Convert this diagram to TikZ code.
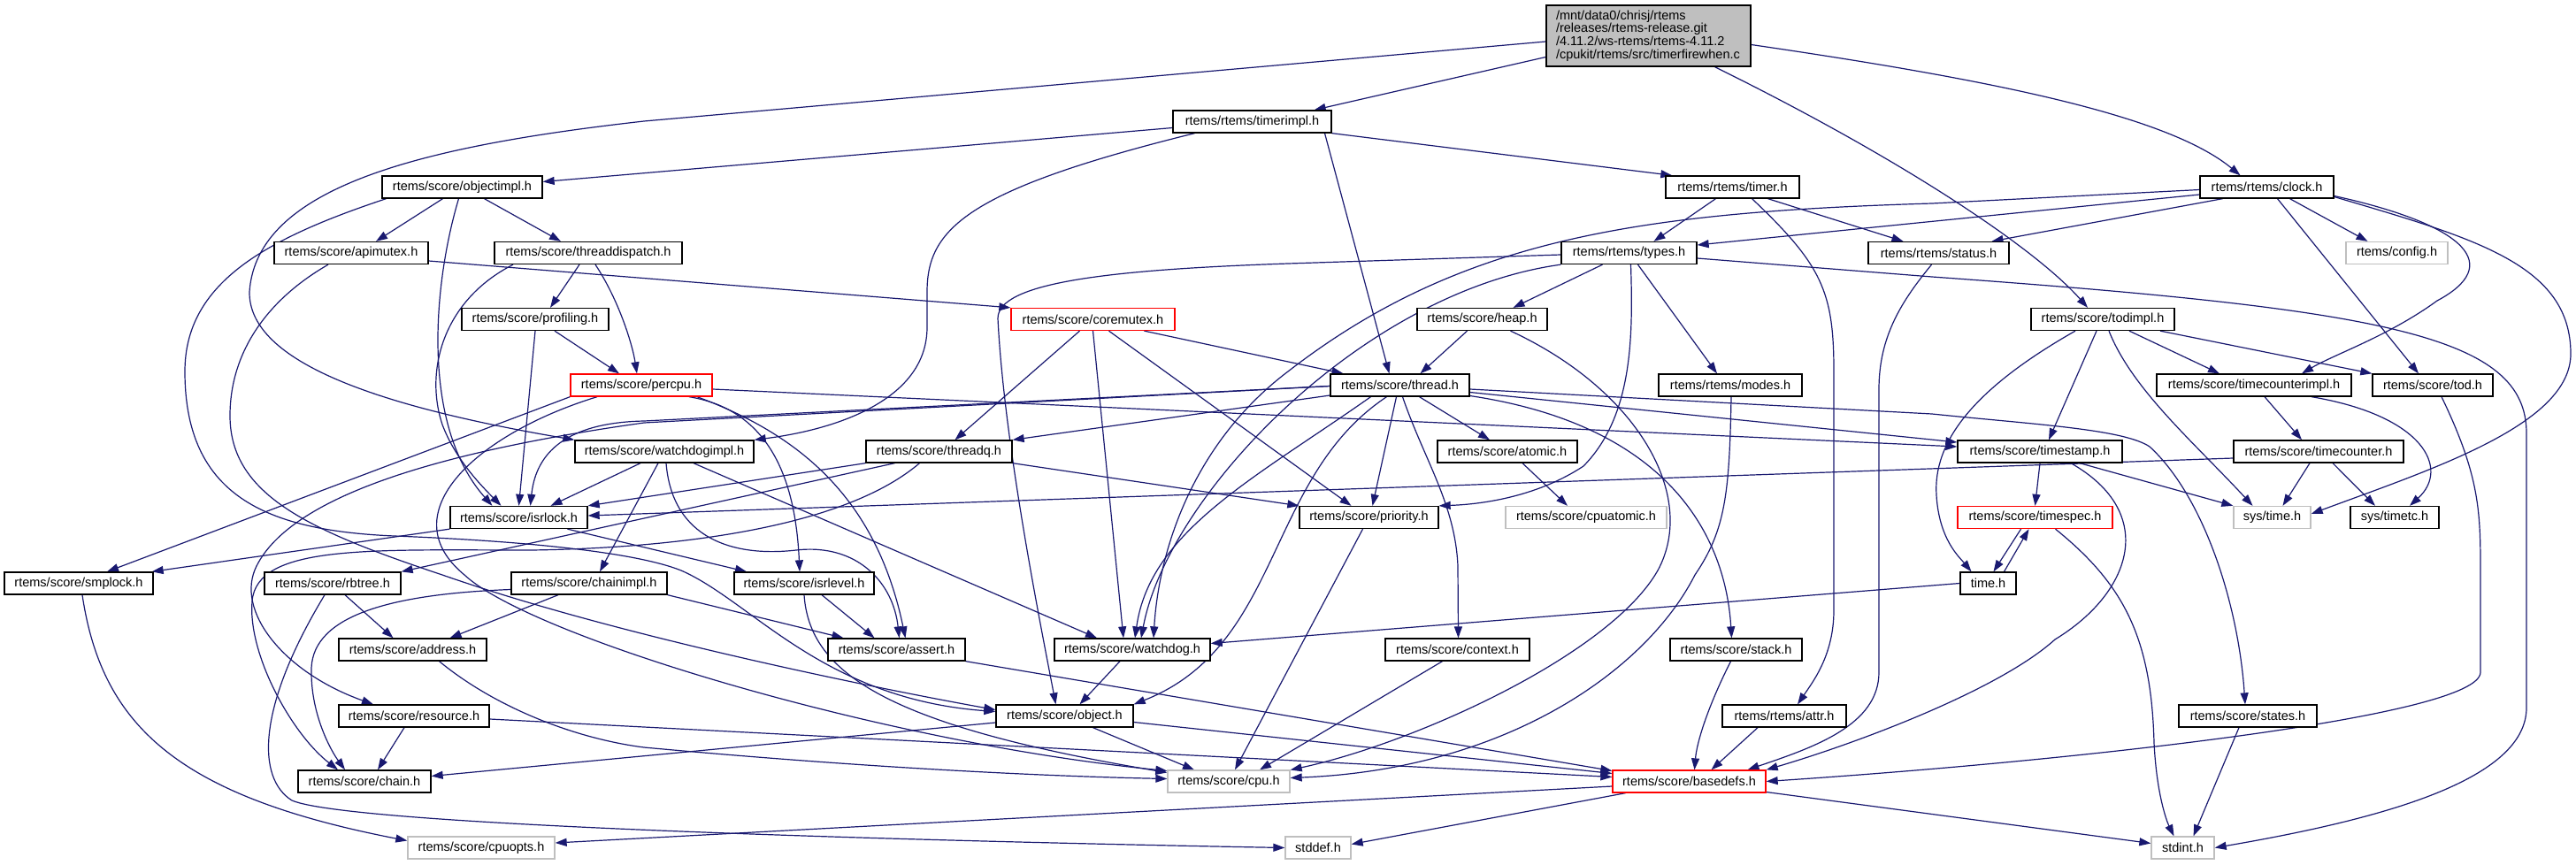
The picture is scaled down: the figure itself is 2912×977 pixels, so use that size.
\documentclass[tikz,border=0pt]{standalone}
\usepackage{fontspec}
\setmainfont{Liberation Sans}
\usetikzlibrary{arrows.meta}
\pgfdeclarelayer{back}
\pgfdeclarelayer{bg}
\pgfsetlayers{back,bg,main}
\definecolor{edgec}{HTML}{191970}
\definecolor{rootfill}{HTML}{BFBFBF}
\definecolor{grayb}{HTML}{BFBFBF}
\definecolor{redb}{HTML}{FF0000}
\begin{document}
\begin{tikzpicture}[x=1pt,y=-1pt,
  nb/.style={draw=black, line width=1.3pt, fill=white, minimum height=25pt, inner sep=0pt, font=\fontsize{14.5pt}{16pt}\selectfont},
  rb/.style={nb, draw=redb},
  gb/.style={nb, draw=grayb},
  e/.style={draw=edgec, line width=1.2pt, -{Triangle[length=13pt,width=9pt]}},
]
\begin{pgfonlayer}{back}
\fill[white] (0,0) rectangle (2912,977);
\end{pgfonlayer}
\useasboundingbox (0,0) rectangle (2912,977);

\node[draw=black, line width=1.3pt, fill=rootfill, minimum height=69pt, inner xsep=11pt, inner ysep=0pt, text width=209pt, align=left, font=\fontsize{14.5pt}{14.8pt}\selectfont] (root) at (1863.5,40.5) {/mnt/data0/chrisj/rtems\\/releases/rtems-release.git\\/4.11.2/ws-rtems/rtems-4.11.2\\/cpukit/rtems/src/timerfirewhen.c};

\node[nb,minimum width=179pt] (timerimpl) at (1415.5,137.5) {rtems/rtems/timerimpl.h};
\node[nb,minimum width=181pt] (objectimpl) at (522.5,211.5) {rtems/score/objectimpl.h};
\node[nb,minimum width=151pt] (timer) at (1958.5,211.5) {rtems/rtems/timer.h};
\node[nb,minimum width=151pt] (clock) at (2562.5,211.5) {rtems/rtems/clock.h};
\node[nb,minimum width=174pt] (apimutex) at (397,286) {rtems/score/apimutex.h};
\node[nb,minimum width=212pt] (threaddispatch) at (665,286) {rtems/score/threaddispatch.h};
\node[nb,minimum width=153pt] (types) at (1841.5,286) {rtems/rtems/types.h};
\node[nb,minimum width=159pt] (status) at (2191.5,286) {rtems/rtems/status.h};
\node[gb,minimum width=115pt] (config) at (2709.5,286) {rtems/config.h};
\node[nb,minimum width=166pt] (profiling) at (605,361) {rtems/score/profiling.h};
\node[rb,minimum width=185pt] (coremutex) at (1235.5,361) {rtems/score/coremutex.h};
\node[nb,minimum width=147pt] (heap) at (1675.5,361) {rtems/score/heap.h};
\node[nb,minimum width=162pt] (todimpl) at (2377,361) {rtems/score/todimpl.h};
\node[rb,minimum width=160pt] (percpu) at (725,435.5) {rtems/score/percpu.h};
\node[nb,minimum width=157pt] (thread) at (1582.5,435.5) {rtems/score/thread.h};
\node[nb,minimum width=162pt] (modes) at (1956,435.5) {rtems/rtems/modes.h};
\node[nb,minimum width=220pt] (timecounterimpl) at (2548,435.5) {rtems/score/timecounterimpl.h};
\node[nb,minimum width=136pt] (tod) at (2750,435.5) {rtems/score/tod.h};
\node[nb,minimum width=202pt] (watchdogimpl) at (751,510.5) {rtems/score/watchdogimpl.h};
\node[nb,minimum width=165pt] (threadq) at (1061.5,510.5) {rtems/score/threadq.h};
\node[nb,minimum width=158pt] (atomic) at (1704,510.5) {rtems/score/atomic.h};
\node[nb,minimum width=186pt] (timestamp) at (2306,510.5) {rtems/score/timestamp.h};
\node[nb,minimum width=192pt] (timecounter) at (2621,510.5) {rtems/score/timecounter.h};
\node[nb,minimum width=155pt] (isrlock) at (586.5,585) {rtems/score/isrlock.h};
\node[nb,minimum width=157pt] (priority) at (1547.5,585) {rtems/score/priority.h};
\node[gb,minimum width=182pt] (cpuatomic) at (1793,585) {rtems/score/cpuatomic.h};
\node[rb,minimum width=175pt] (timespec) at (2300.5,585) {rtems/score/timespec.h};
\node[gb,minimum width=87pt] (systime) at (2568.5,585) {sys/time.h};
\node[nb,minimum width=100pt] (systimetc) at (2707,585) {sys/timetc.h};
\node[nb,minimum width=168pt] (smplock) at (89,659.5) {rtems/score/smplock.h};
\node[nb,minimum width=154pt] (rbtree) at (376,659.5) {rtems/score/rbtree.h};
\node[nb,minimum width=176pt] (chainimpl) at (666,659.5) {rtems/score/chainimpl.h};
\node[nb,minimum width=158pt] (isrlevel) at (909,659.5) {rtems/score/isrlevel.h};
\node[nb,minimum width=63pt] (timeh) at (2247.5,659.5) {time.h};
\node[nb,minimum width=167pt] (address) at (466.5,734.5) {rtems/score/address.h};
\node[nb,minimum width=155pt] (assert) at (1013.5,734.5) {rtems/score/assert.h};
\node[nb,minimum width=176pt] (watchdog) at (1280,734.5) {rtems/score/watchdog.h};
\node[nb,minimum width=163pt] (context) at (1647.5,734.5) {rtems/score/context.h};
\node[nb,minimum width=149pt] (stack) at (1962.5,734.5) {rtems/score/stack.h};
\node[nb,minimum width=170pt] (resource) at (468,809.5) {rtems/score/resource.h};
\node[nb,minimum width=155pt] (object) at (1203.5,809.5) {rtems/score/object.h};
\node[nb,minimum width=140pt] (attr) at (2017,809.5) {rtems/rtems/attr.h};
\node[nb,minimum width=156pt] (states) at (2541,809.5) {rtems/score/states.h};
\node[nb,minimum width=150pt] (chain) at (412,883.5) {rtems/score/chain.h};
\node[gb,minimum width=138pt] (cpu) at (1389,883.5) {rtems/score/cpu.h};
\node[rb,minimum width=173pt] (basedefs) at (1909.5,883.5) {rtems/score/basedefs.h};
\node[gb,minimum width=166pt] (cpuopts) at (544,958.5) {rtems/score/cpuopts.h};
\node[gb,minimum width=74pt] (stddef) at (1490,958.5) {stddef.h};
\node[gb,minimum width=71pt] (stdint) at (2467.5,958.5) {stdint.h};

\begin{pgfonlayer}{bg}
% root
\draw[e] ([yshift=-24pt]root.west) -- ([xshift=-20pt]timerimpl.north east);
\draw[e] ([yshift=-6.5pt]root.west) -- (728,137) .. controls (480,165) and (290,210) .. (282,330) .. controls (281,410) and (430,460) .. (watchdogimpl.north west);
\draw[e] ([yshift=-10pt]root.east) .. controls (2250,90) and (2450,130) .. ([xshift=-30pt]clock.north);
\draw[e] ([xshift=75pt]root.south) .. controls (2150,180) and (2300,280) .. ([xshift=-17pt]todimpl.north);
% timerimpl
\draw[e] ([yshift=-7pt]timerimpl.west) -- ([yshift=6pt]objectimpl.east);
\draw[e] (timerimpl.south east) -- ([xshift=8pt]timer.north west);
\draw[e] ([xshift=82pt]timerimpl.south) -- ([xshift=-12pt]thread.north);
\draw[e] ([xshift=-65pt]timerimpl.south) .. controls (1090,215) and (1048,260) .. (1048,330) -- (1048,370) .. controls (1048,450) and (950,485) .. (watchdogimpl.north east);
% objectimpl
\draw[e] ([xshift=-22pt]objectimpl.south) -- ([xshift=28pt]apimutex.north);
\draw[e] ([xshift=25pt]objectimpl.south) -- ([xshift=-31pt]threaddispatch.north);
\draw[e] ([xshift=-4pt]objectimpl.south) .. controls (490,320) and (475,480) .. ([xshift=-30pt]isrlock.north);
\draw[e] ([xshift=-86pt]objectimpl.south) .. controls (300,270) and (209,320) .. (209,420) .. controls (209,560) and (300,600) .. (446,606) .. controls (600,612) and (720,625) .. (770,645) .. controls (850,680) and (930,790) .. ([yshift=5pt]object.west);
% apimutex
\draw[e] ([yshift=-9pt]apimutex.east) -- (coremutex.north west);
\draw[e] ([xshift=-26pt]apimutex.south) .. controls (300,340) and (260,400) .. (260,470) .. controls (260,560) and (350,600) .. (500,650) .. controls (700,720) and (1000,780) .. ([yshift=7pt]object.west);
% threaddispatch
\draw[e] ([xshift=-10pt]threaddispatch.south) -- ([xshift=17pt]profiling.north);
\draw[e] ([xshift=8pt]threaddispatch.south) .. controls (700,340) and (715,390) .. ([xshift=-5pt]percpu.north);
\draw[e] ([xshift=-85pt]threaddispatch.south) .. controls (500,340) and (480,420) .. (500,480) .. controls (515,520) and (545,550) .. ([xshift=-20pt]isrlock.north);
% profiling
\draw[e] ([xshift=22pt]profiling.south) -- ([xshift=-25pt]percpu.north);
\draw[e] (profiling.south) -- (isrlock.north);
% coremutex
\draw[e] ([xshift=-15pt]coremutex.south) -- ([xshift=18pt]threadq.north);
\draw[e] (coremutex.south) -- ([xshift=-10pt]watchdog.north);
\draw[e] ([xshift=18pt]coremutex.south) -- ([xshift=-20pt]priority.north);
\draw[e] ([xshift=58pt]coremutex.south) -- ([xshift=-64pt]thread.north);
% types
\draw[e] ([xshift=-30pt]types.south) -- ([xshift=35pt]heap.north);
\draw[e] ([xshift=10pt]types.south) -- ([xshift=-15pt]modes.north);
\draw[e] ([xshift=2pt]types.south) .. controls (1846,380) and (1846,470) .. (1790,527) .. controls (1740,560) and (1680,570) .. (priority.north east);
\draw[e] ([yshift=-2pt]types.west) -- (1456,298) .. controls (1250,305) and (1128,320) .. (1128,360) .. controls (1135,500) and (1175,700) .. ([xshift=-10pt]object.north);
\draw[e] (types.south west) .. controls (1540,330) and (1320,560) .. ([xshift=10pt]watchdog.north);
\draw[e] ([yshift=-6pt]types.east) -- (2184,313) .. controls (2700,350) and (2856,380) .. (2856,490) -- (2856,800) .. controls (2856,880) and (2700,925) .. (stdint.east);
% timer
\draw[e] ([xshift=-19pt]timer.south) -- ([xshift=28pt]types.north);
\draw[e] ([xshift=40pt]timer.south) -- ([xshift=-40pt]status.north);
\draw[e] ([xshift=22pt]timer.south) .. controls (2060,300) and (2073,330) .. (2073,420) -- (2073,690) .. controls (2073,740) and (2050,770) .. ([xshift=15pt]attr.north);
% clock
\draw[e] ([yshift=-8.5pt]clock.west) -- ([yshift=9pt]types.east);
\draw[e] ([xshift=-50pt]clock.south) -- ([xshift=60pt]status.north);
\draw[e] ([yshift=-3pt]clock.west) -- (2184,230) .. controls (1850,240) and (1650,270) .. (1456,420) .. controls (1350,500) and (1310,620) .. ([xshift=24pt]watchdog.north);
\draw[e] ([xshift=26pt]clock.south) -- ([xshift=-33pt]config.north);
\draw[e] ([xshift=12pt]clock.south) -- ([xshift=-16pt]tod.north);
\draw[e] ([yshift=-10pt]clock.east) .. controls (2790,255) and (2830,300) .. (2755,340) .. controls (2700,380) and (2640,400) .. ([xshift=54pt]timecounterimpl.north);
\draw[e] ([yshift=-11pt]clock.east) .. controls (2800,270) and (2906,300) .. (2906,400) .. controls (2906,480) and (2750,530) .. ([yshift=4pt]systime.east);
% todimpl
\draw[e] ([xshift=-7pt]todimpl.south) -- ([xshift=10pt]timestamp.north);
\draw[e] ([xshift=30pt]todimpl.south) -- ([xshift=-39pt]timecounterimpl.north);
\draw[e] ([xshift=65pt]todimpl.south) -- (tod.north west);
\draw[e] ([xshift=-31pt]todimpl.south) .. controls (2230,440) and (2185,500) .. (2189,560) .. controls (2192,610) and (2215,630) .. ([xshift=-19pt]timeh.north);
\draw[e] ([xshift=7pt]todimpl.south) .. controls (2410,440) and (2480,500) .. ([xshift=-22pt]systime.north);
% timecounterimpl
\draw[e] ([xshift=12pt]timecounterimpl.south) -- ([xshift=-19pt]timecounter.north);
\draw[e] ([xshift=65pt]timecounterimpl.south) .. controls (2740,470) and (2770,530) .. ([xshift=17pt]systimetc.north);
% timecounter
\draw[e] ([xshift=-10pt]timecounter.south) -- ([xshift=12pt]systime.north);
\draw[e] ([xshift=16pt]timecounter.south) -- ([xshift=-22pt]systimetc.north);
\draw[e] ([yshift=-7.5pt]timecounter.west) -- ([yshift=2pt]isrlock.east);
% timestamp
\draw[e] (timestamp.south) -- (timespec.north);
\draw[e] ([xshift=45pt]timestamp.south) -- (systime.north west);
\draw[e] ([xshift=35pt]timestamp.south) .. controls (2440,580) and (2410,670) .. (2323,723) .. controls (2260,780) and (2100,840) .. (basedefs.north east);
% timespec / time.h
\draw[e] ([xshift=-16pt]timespec.south) -- ([xshift=6pt]timeh.north);
\draw[e] ([xshift=18pt]timeh.north) -- ([xshift=-7pt]timespec.south);
\draw[e] ([xshift=23pt]timespec.south) .. controls (2400,660) and (2432,720) .. (2435,840) .. controls (2438,900) and (2450,930) .. ([xshift=-10pt]stdint.north);
\draw[e] (timeh.west) -- ([yshift=7pt]watchdog.east);
% tod, status
\draw[e] ([xshift=10pt]tod.south) .. controls (2804,540) and (2804,580) .. (2804,650) -- (2804,760) .. controls (2804,810) and (2350,860) .. (basedefs.east);
\draw[e] ([xshift=-8pt]status.south) .. controls (2150,340) and (2124,380) .. (2124,440) -- (2124,760) .. controls (2124,820) and (2050,845) .. ([xshift=66pt]basedefs.north);
% into basedefs
\draw[e] ([xshift=-30pt]attr.south) -- ([xshift=25pt]basedefs.north);
\draw[e] ([xshift=-6pt]stack.south) .. controls (1930,800) and (1918,840) .. ([xshift=6pt]basedefs.north);
\draw[e] ([yshift=-7pt]object.east) -- ([yshift=9pt]basedefs.west);
\draw[e] ([yshift=-3.5pt]resource.east) -- ([yshift=5pt]basedefs.west);
\draw[e] (assert.south east) -- ([yshift=12pt]basedefs.west);
% from basedefs
\draw[e] ([yshift=-5.5pt]basedefs.west) -- ([yshift=5.5pt]cpuopts.east);
\draw[e] ([xshift=-72pt]basedefs.south) -- ([yshift=4pt]stddef.east);
\draw[e] ([yshift=-12pt]basedefs.east) -- ([yshift=5pt]stdint.west);
\draw[e] ([xshift=-10pt]states.south) -- ([xshift=12pt]stdint.north);
\draw[e] ([xshift=4pt]smplock.south) .. controls (115,820) and (200,900) .. ([yshift=8pt]cpuopts.west);
% rbtree, chainimpl
\draw[e] ([xshift=14pt]rbtree.south) -- ([xshift=-22pt]address.north);
\draw[e] ([xshift=-9pt]rbtree.south) .. controls (290,800) and (290,880) .. (330,905) .. controls (400,935) and (1100,952) .. (stddef.west);
\draw[e] ([xshift=-35pt]chainimpl.south) -- ([xshift=42pt]address.north);
\draw[e] ([yshift=-7pt]chainimpl.west) .. controls (430,672) and (350,700) .. (352,760) .. controls (352,810) and (375,850) .. ([xshift=-22pt]chain.north);
\draw[e] (chainimpl.south east) -- ([xshift=-60pt]assert.north);
% isrlevel
\draw[e] ([xshift=20pt]isrlevel.south) -- ([xshift=-25pt]assert.north);
\draw[e] (isrlevel.south) .. controls (915,760) and (1000,820) .. ([yshift=10pt]cpu.west);
% into cpu / chain / object
\draw[e] ([xshift=30pt]address.south) .. controls (560,800) and (650,835) .. (728,845) .. controls (1000,870) and (1200,878) .. ([yshift=3pt]cpu.west);
\draw[e] ([xshift=-17pt]context.south) -- ([xshift=35pt]cpu.north);
\draw[e] ([xshift=-7pt]priority.south) -- ([xshift=7pt]cpu.north);
\draw[e] ([xshift=32pt]object.south) -- ([xshift=-39pt]cpu.north);
\draw[e] ([yshift=-7.5pt]object.west) -- ([yshift=6pt]chain.east);
\draw[e] ([xshift=-11pt]resource.south) -- ([xshift=15pt]chain.north);
\draw[e] ([xshift=-14pt]watchdog.south) -- ([xshift=17pt]object.north);
\draw[e] ([xshift=32pt]heap.south) .. controls (1850,440) and (1920,560) .. (1874,645) .. controls (1820,740) and (1600,840) .. ([yshift=13pt]cpu.east);
\draw[e] ([xshift=1pt]modes.south) .. controls (1955,560) and (1950,600) .. (1916,650) .. controls (1860,760) and (1700,870) .. ([yshift=4pt]cpu.east);
\draw[e] ([xshift=17pt]atomic.south) -- ([xshift=-21pt]cpuatomic.north);
\draw[e] ([xshift=-17pt]heap.south) -- ([xshift=23pt]thread.north);
% thread
\draw[e] ([yshift=-11.5pt]thread.west) -- (threadq.north east);
\draw[e] ([yshift=-1pt]thread.west) -- (728,476) .. controls (630,478) and (605,520) .. ([xshift=13pt]isrlock.north);
\draw[e] ([yshift=-1pt]thread.west) -- (728,478) .. controls (500,510) and (330,560) .. (290,640) .. controls (265,690) and (320,760) .. ([xshift=-46pt]resource.north);
\draw[e] ([xshift=22pt]thread.south) -- ([xshift=-20pt]atomic.north);
\draw[e] ([xshift=-4pt]thread.south) -- ([xshift=4pt]priority.north);
\draw[e] ([xshift=3pt]thread.south) .. controls (1610,520) and (1645,570) .. (1648,640) -- ([xshift=1pt]context.north);
\draw[e] ([xshift=-15pt]thread.south) .. controls (1430,540) and (1450,730) .. (object.north east);
\draw[e] ([xshift=-33pt]thread.south) .. controls (1420,540) and (1300,600) .. ([xshift=3pt]watchdog.north);
\draw[e] ([yshift=-8pt]thread.east) -- ([yshift=10.5pt]timestamp.west);
\draw[e] ([yshift=-4.5pt]thread.east) -- (2184,468) .. controls (2300,480) and (2400,485) .. (2430,505) .. controls (2490,560) and (2530,680) .. ([xshift=-3pt]states.north);
\draw[e] ([yshift=-12pt]thread.east) .. controls (1880,480) and (1950,600) .. ([xshift=-5pt]stack.north);
% percpu
\draw[e] (percpu.south west) -- ([xshift=32pt]smplock.north);
\draw[e] ([xshift=-50pt]percpu.south) .. controls (540,490) and (440,580) .. (525,650) .. controls (600,720) and (1000,840) .. ([yshift=12pt]cpu.west);
\draw[e] ([xshift=54pt]percpu.south) .. controls (880,465) and (900,560) .. ([xshift=-5pt]isrlevel.north);
\draw[e] ([xshift=63pt]percpu.south) .. controls (900,490) and (990,560) .. ([xshift=10pt]assert.north);
\draw[e] ([yshift=-4.5pt]percpu.east) -- ([yshift=5.5pt]timestamp.west);
% watchdogimpl
\draw[e] ([xshift=-7pt]watchdogimpl.south) -- ([xshift=12pt]chainimpl.north);
\draw[e] ([xshift=2pt]watchdogimpl.south) .. controls (760,610) and (830,630) .. (900,622) .. controls (970,614) and (1010,660) .. ([xshift=3pt]assert.north);
\draw[e] ([xshift=33pt]watchdogimpl.south) -- ([xshift=-40pt]watchdog.north);
\draw[e] ([xshift=-27pt]watchdogimpl.south) -- ([xshift=36pt]isrlock.north);
% threadq
\draw[e] (threadq.south west) -- (isrlock.north east);
\draw[e] ([xshift=-50pt]threadq.south) -- (rbtree.north east);
\draw[e] (threadq.south east) -- (priority.north west);
\draw[e] ([xshift=-22pt]threadq.south) .. controls (950,600) and (750,620) .. (600,622) .. controls (420,622) and (290,615) .. (285,680) .. controls (280,740) and (330,830) .. ([xshift=-30pt]chain.north);
% isrlock
\draw[e] (isrlock.south west) -- ([xshift=-2pt]smplock.north east);
\draw[e] ([xshift=55pt]isrlock.south) -- ([xshift=-65pt]isrlevel.north);
\end{pgfonlayer}
\end{tikzpicture}
\end{document}
